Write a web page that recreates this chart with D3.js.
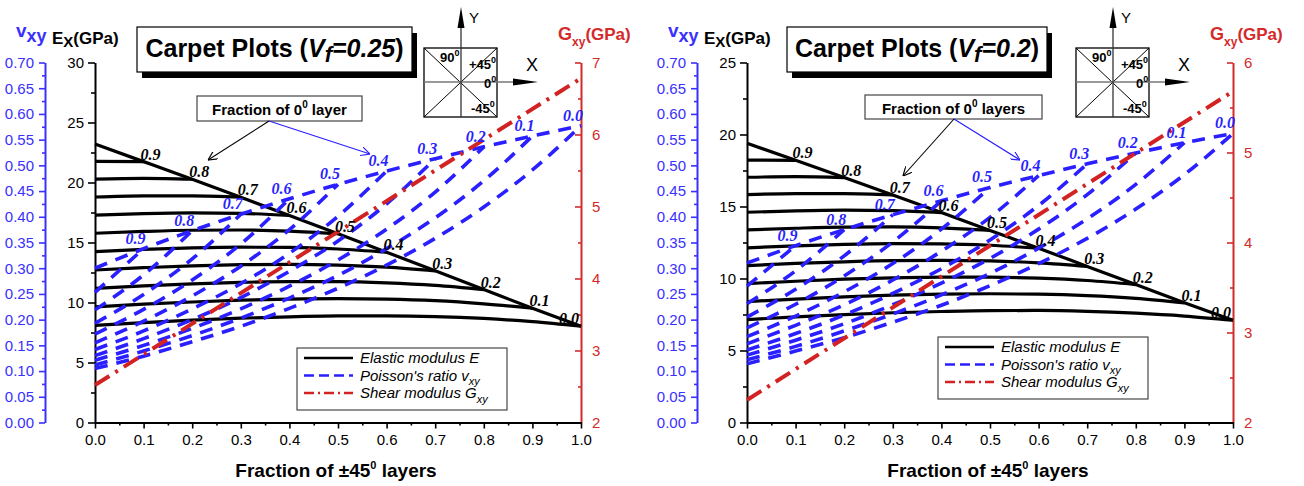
<!DOCTYPE html>
<html>
<head>
<meta charset="utf-8">
<script src="https://cdn.jsdelivr.net/npm/d3@7"></script>
<style>
  body { margin: 0; background: #fff; }
  text { font-family: Arial, "Liberation Sans", sans-serif; }
</style>
</head>
<body>
<svg width="1304" height="486"></svg>
<script>
// fraction of +-45 layers (x positions of every series point)
var p45 = [0, 0.1, 0.2, 0.3, 0.4, 0.5, 0.6, 0.7, 0.8, 0.9, 1.0];
var xTicks = [0, 0.1, 0.2, 0.3, 0.4, 0.5, 0.6, 0.7, 0.8, 0.9, 1.0];
var nuTicks = [0, 0.05, 0.1, 0.15, 0.2, 0.25, 0.3, 0.35, 0.4, 0.45, 0.5, 0.55, 0.6, 0.65, 0.7];
// labels of the end points, p45 = 0.1 ... 1.0
var edgeLabels = ["0.9", "0.8", "0.7", "0.6", "0.5", "0.4", "0.3", "0.2", "0.1", "0.0"];

// ---- Vf = 0.25 ----
var exTicks25 = [0, 5, 10, 15, 20, 25, 30];
var gTicks25 = [2, 3, 4, 5, 6, 7];
// Ex (GPa), one row per fraction of 0 layers (0.0 ... 0.9)
var exVf25 = [
  [8.10, 8.33, 8.53, 8.69, 8.81, 8.88, 8.89, 8.83, 8.67, 8.40, 8.02],
  [9.64, 9.86, 10.04, 10.19, 10.28, 10.32, 10.28, 10.15, 9.89, 9.52],
  [11.18, 11.38, 11.55, 11.68, 11.74, 11.74, 11.64, 11.43, 11.08],
  [12.71, 12.90, 13.06, 13.15, 13.18, 13.12, 12.95, 12.64],
  [14.24, 14.42, 14.55, 14.61, 14.59, 14.46, 14.19],
  [15.77, 15.92, 16.02, 16.04, 15.95, 15.73],
  [17.28, 17.41, 17.47, 17.43, 17.26],
  [18.79, 18.89, 18.89, 18.77],
  [20.28, 20.34, 20.27],
  [21.76, 21.74]
];
var exEdgeVf25 = [23.20, 21.74, 20.27, 18.77, 17.26, 15.73, 14.19, 12.64, 11.08, 9.52, 8.02];
// Poisson's ratio
var nuVf25 = [
  [0.105, 0.129, 0.157, 0.187, 0.222, 0.261, 0.306, 0.358, 0.419, 0.491, 0.577],
  [0.112, 0.139, 0.169, 0.203, 0.242, 0.286, 0.338, 0.398, 0.470, 0.557],
  [0.121, 0.150, 0.183, 0.221, 0.265, 0.316, 0.376, 0.448, 0.536],
  [0.130, 0.163, 0.200, 0.243, 0.294, 0.353, 0.425, 0.513],
  [0.142, 0.178, 0.221, 0.270, 0.329, 0.401, 0.489],
  [0.155, 0.197, 0.246, 0.304, 0.375, 0.463],
  [0.172, 0.220, 0.277, 0.347, 0.435],
  [0.193, 0.249, 0.318, 0.405],
  [0.219, 0.287, 0.373],
  [0.253, 0.338]
];
var nuEdgeVf25 = [0.300, 0.338, 0.373, 0.405, 0.435, 0.463, 0.489, 0.513, 0.536, 0.557, 0.577];
var gVf25 = [2.52, 6.78];

// ---- Vf = 0.2 ----
var exTicks20 = [0, 5, 10, 15, 20, 25];
var gTicks20 = [2, 3, 4, 5, 6];
var exVf20 = [
  [7.15, 7.33, 7.49, 7.62, 7.71, 7.77, 7.78, 7.72, 7.59, 7.39, 7.10],
  [8.40, 8.57, 8.72, 8.84, 8.91, 8.94, 8.91, 8.81, 8.62, 8.31],
  [9.65, 9.81, 9.95, 10.04, 10.10, 10.09, 10.02, 9.86, 9.58],
  [10.89, 11.05, 11.16, 11.24, 11.26, 11.22, 11.09, 10.84],
  [12.13, 12.27, 12.37, 12.42, 12.41, 12.31, 12.10],
  [13.37, 13.49, 13.57, 13.58, 13.52, 13.34],
  [14.60, 14.70, 14.75, 14.71, 14.58],
  [15.82, 15.90, 15.90, 15.80],
  [17.03, 17.07, 17.01],
  [18.22, 18.21]
];
var exEdgeVf20 = [19.39, 18.21, 17.01, 15.80, 14.58, 13.34, 12.10, 10.84, 9.58, 8.31, 7.10];
var nuVf20 = [
  [0.114, 0.139, 0.165, 0.195, 0.228, 0.266, 0.309, 0.358, 0.415, 0.482, 0.562],
  [0.122, 0.148, 0.178, 0.211, 0.248, 0.290, 0.339, 0.396, 0.463, 0.544],
  [0.131, 0.160, 0.192, 0.229, 0.271, 0.319, 0.376, 0.443, 0.524],
  [0.141, 0.173, 0.209, 0.251, 0.299, 0.355, 0.422, 0.503],
  [0.153, 0.189, 0.229, 0.277, 0.333, 0.399, 0.480],
  [0.167, 0.207, 0.254, 0.309, 0.376, 0.457],
  [0.184, 0.230, 0.285, 0.351, 0.431],
  [0.205, 0.259, 0.324, 0.404],
  [0.231, 0.295, 0.375],
  [0.265, 0.344]
];
var nuEdgeVf20 = [0.310, 0.344, 0.375, 0.404, 0.431, 0.457, 0.480, 0.503, 0.524, 0.544, 0.562];
var gVf20 = [2.25, 5.68];
var gEnds = [0, 1];

var BLUE = "#2a1fff", RED = "#d22222", BLUE_TXT = "#3a30ff", RED_TXT = "#d42a2a";

var panels = [
  { dx: 0, vf: "0.25", exTicks: exTicks25, gTicks: gTicks25, ex: exVf25, exEdge: exEdgeVf25,
    nu: nuVf25, nuEdge: nuEdgeVf25, g: gVf25, titleBox: [137, 27, 275, 45],
    fracBox: [197, 96, 165, 25], fracText: " layer", arrowFrom: [269, 121], arrowBlack: [208, 160], arrowBlue: [370, 154],
    legend: [297, 348] },
  { dx: 652, vf: "0.2", exTicks: exTicks20, gTicks: gTicks20, ex: exVf20, exEdge: exEdgeVf20,
    nu: nuVf20, nuEdge: nuEdgeVf20, g: gVf20, titleBox: [135, 27, 260, 45],
    fracBox: [213, 95, 177, 24], fracText: " layers", arrowFrom: [302, 119], arrowBlack: [251, 176], arrowBlue: [368, 160],
    legend: [286, 337] }
];

var svg = d3.select("svg");

var defs = svg.append("defs");
[["arrBlack", "#000"], ["arrBlue", BLUE]].forEach(function (m) {
  defs.append("marker").attr("id", m[0]).attr("viewBox", "0 0 10 10")
    .attr("refX", 10).attr("refY", 5).attr("markerWidth", 9).attr("markerHeight", 9)
    .attr("orient", "auto").attr("markerUnits", "userSpaceOnUse")
    .append("path").attr("d", "M0,0 L10,5 L0,10").attr("fill", "none").attr("stroke", m[1]).attr("stroke-width", 1.3);
});

function minors(ticks) {
  return d3.pairs(ticks, function (a, b) { return (a + b) / 2; });
}

function styleAxis(ax, color, width) {
  ax.attr("font-family", null).attr("font-size", null);
  ax.selectAll("path, line").attr("stroke", color).attr("stroke-width", width);
  ax.selectAll("text").attr("fill", color).style("font-size", "15px");
}

// text made of parts: [text, dy, font-size]
function richText(sel, parts) {
  parts.forEach(function (p) {
    var t = sel.append("tspan").text(p[0]).attr("font-size", p[2]);
    if (p[1]) t.attr("dy", p[1]);
  });
  return sel;
}

function drawPanel(cfg) {
  var g = svg.append("g").attr("transform", "translate(" + cfg.dx + ",0)");
  var x = d3.scaleLinear().domain([0, 1]).range([95, 581]);
  var yE = d3.scaleLinear().domain([0, d3.max(cfg.exTicks)]).range([422.5, 62.5]);
  var yNu = d3.scaleLinear().domain([0, 0.7]).range([422.5, 62.5]);
  var yG = d3.scaleLinear().domain(d3.extent(cfg.gTicks)).range([422.5, 62.5]);

  // poisson axis (far left)
  var nuAx = g.append("g").attr("transform", "translate(45,0)")
    .call(d3.axisLeft(yNu).tickValues(nuTicks).tickFormat(d3.format(".2f")).tickSize(6).tickSizeOuter(0).tickPadding(5));
  nuAx.append("g").call(d3.axisLeft(yNu).tickValues(minors(nuTicks)).tickSize(3).tickFormat(""))
    .call(function (s) { s.select(".domain").remove(); });
  styleAxis(nuAx, BLUE_TXT, 1.6);
  nuAx.select(".domain").attr("stroke-width", 2);

  // Ex axis
  var eAx = g.append("g").attr("transform", "translate(95,0)")
    .call(d3.axisLeft(yE).tickValues(cfg.exTicks).tickSize(7).tickSizeOuter(0).tickPadding(4));
  eAx.append("g").call(d3.axisLeft(yE).tickValues(minors(cfg.exTicks)).tickSize(4).tickFormat(""))
    .call(function (s) { s.select(".domain").remove(); });
  styleAxis(eAx, "#000", 1.6);
  eAx.select(".domain").attr("stroke-width", 2);

  // Gxy axis (right, ticks inward)
  var gAx = g.append("g").attr("transform", "translate(581,0)")
    .call(d3.axisRight(yG).tickValues(cfg.gTicks).tickFormat(d3.format("d")).tickSize(-6).tickSizeOuter(0).tickPadding(11));
  gAx.append("g").call(d3.axisRight(yG).tickValues(minors(cfg.gTicks)).tickSize(-3).tickFormat(""))
    .call(function (s) { s.select(".domain").remove(); });
  styleAxis(gAx, RED_TXT, 1.6);
  gAx.select(".domain").attr("stroke-width", 2);

  // x axis
  var xAx = g.append("g").attr("transform", "translate(0,422.5)")
    .call(d3.axisBottom(x).tickValues(xTicks).tickFormat(d3.format(".1f")).tickSize(6).tickSizeOuter(0).tickPadding(6));
  xAx.append("g").call(d3.axisBottom(x).tickValues(minors(xTicks)).tickSize(3).tickFormat(""))
    .call(function (s) { s.select(".domain").remove(); });
  styleAxis(xAx, "#000", 1.6);
  xAx.select(".domain").attr("stroke-width", 2);

  // axis titles
  richText(g.append("text").attr("x", 336).attr("y", 477).attr("text-anchor", "middle").attr("font-weight", "bold"),
    [["Fraction of \u00b145", 0, "19px"], ["0", -8, "11px"], [" layers", 8, "19px"]]);
  richText(g.append("text").attr("x", 16).attr("y", 37).attr("fill", BLUE_TXT).attr("font-weight", "bold"),
    [["v", 0, "19px"], ["xy", 5, "18px"]]);
  richText(g.append("text").attr("x", 52).attr("y", 44).attr("font-weight", "bold"),
    [["E", 0, "17px"], ["X", 3, "15px"], ["(GPa)", -3, "17px"]]);
  richText(g.append("text").attr("x", 558).attr("y", 40).attr("fill", RED_TXT).attr("font-weight", "bold"),
    [["G", 0, "18px"], ["xy", 6, "12px"], ["(GPa)", -6, "17px"]]);

  // curves
  var lineOf = function (y) {
    return d3.line().x(function (d, i) { return x(p45[i]); }).y(function (d) { return y(d); })
      .curve(d3.curveMonotoneX);
  };
  var lineE = lineOf(yE), lineNu = lineOf(yNu);

  g.append("g").selectAll("path").data(cfg.ex.concat([cfg.exEdge])).enter().append("path")
    .attr("d", lineE).attr("fill", "none").attr("stroke", "#000").attr("stroke-width", 3.2);

  g.append("g").selectAll("path").data(cfg.nu.concat([cfg.nuEdge])).enter().append("path")
    .attr("d", lineNu).attr("fill", "none").attr("stroke", BLUE).attr("stroke-width", 3.6)
    .attr("stroke-dasharray", "13,9");

  var lineG = d3.line().x(function (d, i) { return x(gEnds[i]); }).y(function (d) { return yG(d); });
  g.append("path").datum(cfg.g).attr("d", lineG).attr("fill", "none").attr("stroke", RED)
    .attr("stroke-width", 4).attr("stroke-dasharray", "17,7,3,7");

  // end-point labels
  var lab = g.append("g").attr("font-weight", "bold").attr("font-style", "italic").attr("text-anchor", "middle");
  cfg.exEdge.slice(1).forEach(function (v, i) {
    lab.append("text").attr("x", x(p45[i + 1]) + (i === 9 ? -12 : 7)).attr("y", yE(v) - 2)
      .style("font-family", "'Liberation Serif', serif").style("font-size", "16px").text(edgeLabels[i]);
  });
  cfg.nuEdge.slice(1).forEach(function (v, i) {
    lab.append("text").attr("x", x(p45[i + 1]) - 8).attr("y", yNu(v) - 5).attr("fill", BLUE)
      .style("font-family", "'Liberation Serif', serif").style("font-size", "16px").text(edgeLabels[i]);
  });

  // title box with shadow
  var tb = cfg.titleBox;
  g.append("rect").attr("x", tb[0] + 5).attr("y", tb[1] + 6).attr("width", tb[2]).attr("height", tb[3]).attr("fill", "#000");
  g.append("rect").attr("x", tb[0]).attr("y", tb[1]).attr("width", tb[2]).attr("height", tb[3])
    .attr("fill", "#fff").attr("stroke", "#000").attr("stroke-width", 1.2);
  var tt = g.append("text").attr("x", tb[0] + tb[2] / 2).attr("y", tb[1] + 30).attr("text-anchor", "middle")
    .attr("font-weight", "bold").attr("font-size", "25px");
  tt.append("tspan").text("Carpet Plots (");
  tt.append("tspan").attr("font-style", "italic").text("V");
  tt.append("tspan").attr("font-style", "italic").attr("dy", 5).attr("font-size", "22px").text("f");
  tt.append("tspan").attr("font-style", "italic").attr("dy", -5).text("=" + cfg.vf);
  tt.append("tspan").text(")");

  // fraction of 0 layers note
  var fb = cfg.fracBox;
  g.append("rect").attr("x", fb[0]).attr("y", fb[1]).attr("width", fb[2]).attr("height", fb[3])
    .attr("fill", "#fff").attr("stroke", "#444").attr("stroke-width", 1.2);
  richText(g.append("text").attr("x", fb[0] + fb[2] / 2).attr("y", fb[1] + 19).attr("text-anchor", "middle")
    .attr("font-weight", "bold"), [["Fraction of 0", 0, "15px"], ["0", -7, "10px"], [cfg.fracText, 7, "15px"]]);
  g.append("line").attr("x1", cfg.arrowFrom[0]).attr("y1", cfg.arrowFrom[1])
    .attr("x2", cfg.arrowBlack[0]).attr("y2", cfg.arrowBlack[1]).attr("stroke", "#000").attr("stroke-width", 1.1)
    .attr("marker-end", "url(#arrBlack)");
  g.append("line").attr("x1", cfg.arrowFrom[0]).attr("y1", cfg.arrowFrom[1])
    .attr("x2", cfg.arrowBlue[0]).attr("y2", cfg.arrowBlue[1]).attr("stroke", BLUE).attr("stroke-width", 1.1)
    .attr("marker-end", "url(#arrBlue)");

  // ply orientation sketch
  var cx = 461, cy = 82, bx0 = 424, bx1 = 497, by0 = 48, by1 = 117;
  var sk = g.append("g");
  sk.append("rect").attr("x", bx0).attr("y", by0).attr("width", bx1 - bx0).attr("height", by1 - by0)
    .attr("fill", "#fff").attr("stroke", "#000").attr("stroke-width", 1.3);
  sk.append("line").attr("x1", bx0).attr("y1", by0).attr("x2", bx1).attr("y2", by1).attr("stroke", "#000");
  sk.append("line").attr("x1", bx0).attr("y1", by1).attr("x2", bx1).attr("y2", by0).attr("stroke", "#000");
  sk.append("line").attr("x1", bx0).attr("y1", cy).attr("x2", 515).attr("y2", cy).attr("stroke", "#777").attr("stroke-width", 1.3);
  sk.append("line").attr("x1", cx).attr("y1", by1).attr("x2", cx).attr("y2", 26).attr("stroke", "#333").attr("stroke-width", 1.3);
  sk.append("path").attr("d", "M513," + (cy - 3.5) + " L538," + cy + " L513," + (cy + 3.5) + "Z").attr("fill", "#000");
  sk.append("path").attr("d", "M" + (cx - 3.5) + ",28 L" + cx + ",7 L" + (cx + 3.5) + ",28Z").attr("fill", "#000");
  sk.append("text").attr("x", 532).attr("y", 71).attr("text-anchor", "middle").attr("font-size", "18px").text("X");
  sk.append("text").attr("x", 474).attr("y", 23).attr("text-anchor", "middle").attr("font-size", "15px").text("Y");
  [["90", 440, 62], ["+45", 469, 69], ["0", 484, 88], ["-45", 471, 113]].forEach(function (a) {
    richText(sk.append("text").attr("x", a[1]).attr("y", a[2]).attr("font-weight", "bold"),
      [[a[0], 0, "13px"], ["0", -6, "9px"]]);
  });

  // legend
  var lx = cfg.legend[0], ly = cfg.legend[1];
  var lg = g.append("g");
  lg.append("rect").attr("x", lx).attr("y", ly).attr("width", 210).attr("height", 62)
    .attr("fill", "#fff").attr("stroke", "#222").attr("stroke-width", 1);
  var rows = [
    { stroke: "#000", dash: null, parts: [["Elastic modulus E", 0, "15px"]] },
    { stroke: BLUE, dash: "10,5", parts: [["Poisson's ratio v", 0, "15px"], ["xy", 4, "11px"]] },
    { stroke: RED, dash: "10,4,2,4", parts: [["Shear modulus G", 0, "15px"], ["xy", 5, "11px"]] }
  ];
  rows.forEach(function (r, i) {
    var yy = ly + 10 + i * 17.5;
    lg.append("line").attr("x1", lx + 7).attr("x2", lx + 56).attr("y1", yy).attr("y2", yy)
      .attr("stroke", r.stroke).attr("stroke-width", 2.6).attr("stroke-dasharray", r.dash);
    richText(lg.append("text").attr("x", lx + 63).attr("y", yy + 5).attr("font-style", "italic"), r.parts);
  });
}

panels.forEach(drawPanel);
</script>
</body>
</html>
